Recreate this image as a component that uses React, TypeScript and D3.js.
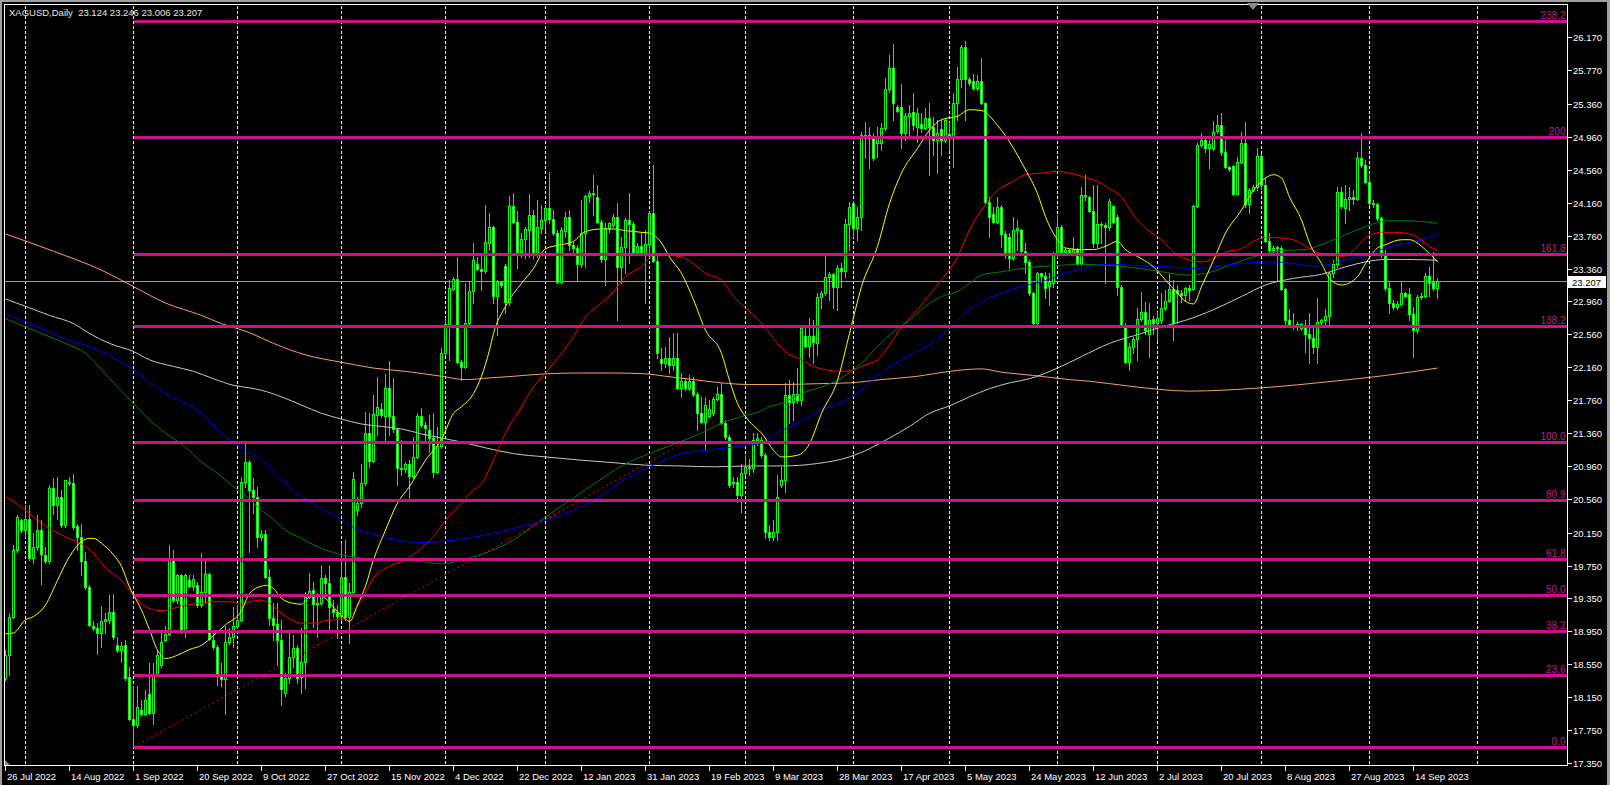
import * as d3 from "d3";
import { useEffect } from "react";

const W = 1610;
const H = 785;

// daily bars, one per trading day from 26 Jul 2022: [open, high, low, close]
const candles: [number, number, number, number][] = [
  [18.38,18.72,18.36,18.66],[18.66,19.17,18.42,19.13],[19.13,20.00,19.11,19.94],[19.94,20.36,19.92,20.34],[20.30,20.32,20.16,20.18],
  [20.18,20.49,20.10,20.31],[20.31,20.49,19.82,19.84],[19.84,20.14,19.78,19.97],[19.97,20.36,19.94,20.18],[20.18,20.30,19.53,19.89],
  [19.88,19.98,19.78,19.80],[19.80,20.73,19.78,20.69],[20.69,20.81,20.38,20.49],[20.49,20.83,20.32,20.58],[20.58,20.67,20.22,20.24],
  [20.24,20.79,20.22,20.79],[20.76,20.83,20.73,20.75],[20.75,20.86,20.20,20.22],[20.23,20.26,19.94,20.10],[20.10,20.26,19.63,19.80],
  [19.80,19.92,19.47,19.49],[19.49,19.51,19.01,19.03],[19.02,19.07,18.97,18.99],[18.99,19.05,18.68,18.93],[18.93,19.26,18.76,19.08],
  [19.08,19.17,18.93,19.10],[19.09,19.39,19.05,19.19],[19.19,19.41,18.86,18.88],[18.78,18.88,18.70,18.72],[18.72,18.82,18.58,18.77],
  [18.78,18.84,18.36,18.38],[18.40,18.52,17.87,17.89],[17.89,18.28,17.54,17.81],[17.81,18.28,17.79,18.03],[18.00,18.12,17.93,17.95],
  [17.95,18.24,17.93,18.12],[18.19,18.56,17.95,17.96],[17.96,18.56,17.83,18.43],[18.43,18.72,18.42,18.66],[18.54,18.93,18.52,18.82],
  [18.84,19.01,18.83,18.92],[18.92,20.00,18.91,19.82],[19.82,19.94,19.31,19.33],[19.33,19.65,19.29,19.63],[19.63,19.65,18.93,18.95],
  [18.95,19.65,18.88,19.63],[19.58,19.63,19.49,19.50],[19.50,19.63,19.45,19.59],[19.51,19.55,19.25,19.27],[19.27,19.90,19.25,19.43],
  [19.43,19.84,19.29,19.65],[19.65,19.66,18.84,18.86],[18.84,18.95,18.74,18.76],[18.76,18.78,18.30,18.42],[18.42,18.56,18.28,18.37],
  [18.37,19.01,17.95,18.82],[18.82,18.99,18.80,18.88],[18.88,19.25,18.76,19.01],[19.01,19.27,18.99,19.09],[19.09,20.83,19.07,20.77],
  [20.77,21.23,20.70,21.01],[21.01,21.03,19.92,20.67],[20.67,20.81,20.39,20.58],[20.58,20.70,19.97,20.10],[20.10,20.18,20.06,20.13],
  [20.13,20.18,19.60,19.61],[19.61,19.71,19.03,19.11],[19.11,19.29,18.84,19.03],[19.04,19.29,18.54,18.85],[18.85,19.09,18.05,18.25],
  [18.20,18.44,18.17,18.38],[18.38,18.93,18.32,18.64],[18.64,18.90,18.52,18.75],[18.75,18.78,18.32,18.38],[18.40,18.99,18.20,18.58],
  [18.58,19.43,18.26,19.37],[19.37,19.66,19.36,19.44],[19.45,19.55,19.00,19.28],[19.28,19.42,18.88,19.30],[19.30,19.76,19.27,19.60],
  [19.60,19.64,19.39,19.54],[19.54,19.76,18.97,19.25],[19.22,19.33,19.12,19.18],[19.19,19.27,18.87,19.14],[19.14,20.02,19.09,19.61],
  [19.61,20.06,19.09,19.12],[19.12,19.54,18.81,19.43],[19.43,20.89,19.42,20.80],[20.42,20.58,20.36,20.51],[20.51,20.99,20.46,20.75],
  [20.75,21.61,20.73,21.36],[21.36,21.60,20.95,21.02],[21.02,21.82,21.01,21.59],[21.58,22.04,21.34,21.68],[21.65,21.72,21.55,21.58],
  [21.57,22.08,21.27,21.91],[21.91,22.24,21.34,21.57],[21.57,22.03,21.37,21.41],[21.41,21.42,20.73,20.93],[20.94,21.27,20.85,20.92],
  [20.92,21.01,20.89,20.98],[20.98,21.03,20.57,20.84],[20.84,21.31,20.81,21.07],[21.07,21.60,21.06,21.57],[21.57,21.66,21.43,21.46],
  [21.46,21.49,21.24,21.42],[21.40,21.58,21.13,21.30],[21.30,21.60,20.83,20.89],[20.89,21.43,20.87,21.20],[21.20,22.39,21.18,22.33],
  [22.33,22.76,22.31,22.69],[22.69,23.22,22.25,23.12],[23.11,23.26,23.10,23.23],[23.23,23.50,22.21,22.22],[22.22,22.25,22.00,22.16],
  [22.16,23.18,22.15,22.70],[22.70,23.20,22.69,23.09],[23.09,23.67,22.94,23.46],[23.42,23.50,23.34,23.35],[23.36,23.52,23.10,23.33],
  [23.33,24.13,23.31,23.68],[23.67,24.03,23.58,23.86],[23.86,23.88,22.94,23.03],[23.03,23.22,22.55,23.20],[23.19,23.20,23.13,23.16],
  [23.39,23.41,22.82,22.95],[22.95,24.24,22.92,24.12],[24.12,24.28,23.91,23.92],[23.92,24.06,23.37,23.56],[23.56,23.79,23.50,23.72],
  [23.72,23.86,23.49,23.84],[23.83,24.26,23.50,24.01],[24.01,24.07,23.49,23.52],[23.52,24.19,23.50,23.86],[23.85,24.13,23.79,23.95],
  [23.95,24.13,23.83,24.10],[24.09,24.53,23.91,23.96],[23.96,24.07,23.77,23.79],[23.79,23.83,23.18,23.20],[23.20,23.86,23.18,23.83],
  [23.82,24.05,23.74,23.99],[23.99,24.07,23.58,23.65],[23.65,23.68,23.55,23.61],[23.61,23.65,23.22,23.41],[23.41,24.19,23.38,23.79],
  [23.79,24.25,23.38,24.24],[24.24,24.30,24.17,24.28],[24.28,24.50,24.01,24.26],[24.23,24.37,23.91,23.92],[23.92,23.95,23.44,23.47],
  [23.47,23.91,23.16,23.85],[23.85,23.93,23.80,23.91],[23.89,24.02,23.86,23.99],[23.99,24.16,22.73,23.38],[23.38,23.74,23.18,23.62],
  [23.62,23.97,23.30,23.95],[23.95,24.28,23.43,23.90],[23.90,23.93,23.55,23.56],[23.56,23.67,23.52,23.63],[23.63,23.80,23.52,23.55],
  [23.55,23.83,22.94,23.66],[23.66,24.05,23.52,24.03],[24.03,24.62,23.44,23.45],[23.45,23.52,22.27,22.33],[22.26,22.39,22.13,22.21],
  [22.21,22.41,22.16,22.27],[22.27,22.53,22.09,22.19],[22.19,22.58,22.13,22.27],[22.27,22.58,21.90,21.91],[21.91,22.09,21.80,21.99],
  [21.99,22.03,21.88,21.91],[21.91,22.06,21.88,21.99],[21.99,22.04,21.81,21.83],[21.83,21.86,21.40,21.60],[21.60,21.80,21.48,21.49],
  [21.49,21.80,21.15,21.70],[21.57,21.76,21.56,21.65],[21.60,21.80,21.58,21.78],[21.78,21.92,21.76,21.84],[21.84,21.97,21.47,21.48],
  [21.48,21.52,21.29,21.31],[21.31,21.34,20.70,20.73],[20.75,20.83,20.70,20.77],[20.77,20.83,20.52,20.61],[20.61,20.99,20.40,20.87],
  [20.87,21.09,20.85,20.95],[20.95,21.05,20.85,20.93],[20.93,21.36,20.89,21.28],[21.28,21.36,21.21,21.30],[21.28,21.31,21.07,21.09],
  [21.09,21.12,20.08,20.16],[20.16,20.24,20.06,20.10],[20.10,20.30,20.06,20.16],[20.16,20.85,20.06,20.58],[20.73,20.95,20.70,20.79],
  [20.79,21.97,20.64,21.82],[21.82,22.00,21.48,21.74],[21.74,21.98,21.52,21.83],[21.83,22.15,21.72,21.76],[21.76,22.65,21.70,22.64],
  [22.54,22.65,22.41,22.42],[22.42,22.76,22.28,22.54],[22.54,22.73,22.21,22.47],[22.46,23.06,22.31,23.01],[23.01,23.09,22.88,23.06],
  [23.06,23.55,23.04,23.26],[23.26,23.32,22.98,23.29],[23.29,23.31,22.88,23.13],[23.13,23.40,22.86,23.37],[23.37,23.43,23.13,23.33],
  [23.33,23.96,23.26,23.90],[23.90,24.17,23.59,24.11],[24.16,24.18,23.74,23.85],[23.85,24.11,23.71,23.99],[23.99,25.02,23.83,24.98],
  [24.98,25.14,24.70,24.95],[24.95,25.08,24.58,24.98],[24.95,25.01,24.68,24.70],[24.89,25.08,24.71,24.95],[24.89,25.13,24.80,25.07],
  [25.07,25.67,25.04,25.54],[25.54,25.95,25.50,25.80],[25.80,26.09,25.16,25.37],[25.32,25.35,25.26,25.28],[25.32,25.60,24.82,25.01],
  [25.01,25.25,24.92,25.21],[25.21,25.35,24.98,25.25],[25.26,25.49,25.04,25.10],[25.08,25.31,24.90,25.25],[25.12,25.25,25.02,25.07],
  [25.07,25.31,25.05,25.19],[25.19,25.37,24.50,25.08],[25.08,25.20,24.74,24.92],[24.92,25.17,24.52,25.01],[25.06,25.17,24.74,24.92],
  [24.92,25.19,24.90,25.16],[24.99,25.14,24.80,24.96],[24.96,25.49,24.59,25.37],[25.37,25.81,25.16,25.66],[25.66,26.08,25.57,26.05],
  [26.05,26.13,25.16,25.66],[25.66,25.69,25.59,25.62],[25.64,25.73,25.53,25.55],[25.55,25.71,25.53,25.64],[25.64,25.92,25.36,25.37],
  [25.37,25.38,24.15,24.17],[24.17,24.23,23.74,23.99],[24.02,24.11,23.91,23.93],[23.93,24.23,23.91,24.11],[24.11,24.13,23.62,23.78],
  [23.78,23.82,23.49,23.55],[23.74,23.79,23.37,23.49],[23.49,23.99,23.46,23.83],[23.83,23.95,23.59,23.85],[23.83,23.84,23.55,23.57],
  [23.57,23.67,23.31,23.44],[23.44,23.46,23.04,23.06],[23.06,23.07,22.65,22.70],[22.70,23.32,22.65,23.30],[23.30,23.31,23.20,23.27],
  [23.27,23.32,23.00,23.12],[23.15,23.30,22.92,23.19],[23.18,23.56,23.14,23.54],[23.54,24.01,23.50,23.86],[23.86,23.89,23.55,23.56],
  [23.56,23.61,23.54,23.59],[23.59,23.60,23.52,23.56],[23.54,23.74,23.52,23.60],[23.60,23.61,23.40,23.43],[23.43,24.35,23.40,24.25],
  [24.25,24.50,24.19,24.24],[24.23,24.24,24.05,24.06],[24.06,24.37,23.62,23.67],[23.67,24.37,23.62,23.90],[23.90,23.93,23.67,23.89],
  [23.89,23.91,23.18,23.86],[23.86,24.20,23.83,24.18],[24.12,24.13,23.91,23.92],[23.99,24.01,23.04,23.14],[23.14,23.16,22.65,22.67],
  [22.67,22.70,22.21,22.22],[22.22,22.45,22.13,22.41],[22.41,22.53,22.33,22.50],[22.50,22.88,22.25,22.75],[22.75,23.07,22.72,22.83],
  [22.83,22.95,22.57,22.61],[22.57,22.94,22.29,22.73],[22.75,22.78,22.57,22.70],[22.70,22.83,22.49,22.76],[22.73,23.06,22.70,22.88],
  [22.88,23.10,22.86,22.96],[22.96,23.30,22.95,23.11],[23.11,23.22,22.49,22.70],[23.10,23.16,22.70,23.06],[23.06,23.10,22.95,23.04],
  [23.04,23.14,22.98,23.12],[23.12,23.16,22.98,23.10],[23.11,24.13,23.10,24.12],[24.12,24.89,24.11,24.86],[24.86,25.01,24.84,24.92],
  [24.92,24.94,24.78,24.83],[24.83,24.92,24.58,24.87],[24.82,25.15,24.80,25.02],[25.03,25.23,25.01,25.10],[25.10,25.25,24.74,24.78],
  [24.78,24.92,24.58,24.59],[24.59,24.60,24.55,24.57],[24.60,24.62,24.25,24.27],[24.27,24.71,24.26,24.65],[24.65,25.02,24.64,24.88],
  [24.88,25.14,24.11,24.14],[24.14,24.34,24.03,24.32],[24.32,24.37,24.30,24.35],[24.35,24.82,24.31,24.73],[24.73,24.75,24.33,24.38],
  [24.38,24.46,23.68,23.69],[23.69,23.79,23.55,23.58],[23.58,23.63,23.54,23.61],[23.61,23.63,23.22,23.62],[23.61,23.63,23.10,23.11],
  [23.11,23.12,22.65,22.74],[22.74,22.87,22.65,22.67],[22.67,22.82,22.63,22.65],[22.65,22.71,22.61,22.68],[22.68,22.70,22.61,22.64],
  [22.67,22.73,22.35,22.57],[22.57,22.82,22.21,22.52],[22.52,22.65,22.33,22.40],[22.40,23.00,22.21,22.71],[22.71,22.75,22.69,22.73],
  [22.73,22.87,22.69,22.78],[22.78,23.32,22.65,23.30],[23.30,23.46,23.26,23.41],[23.41,24.35,23.38,24.29],[24.29,24.35,24.09,24.12],
  [24.10,24.37,23.91,24.20],[24.20,24.35,24.07,24.23],[24.23,24.31,24.15,24.21],[24.21,24.78,24.19,24.70],[24.70,25.01,24.59,24.62],
  [24.62,24.68,24.40,24.41],[24.41,24.50,24.13,24.16],[24.16,24.19,24.11,24.14],[24.14,24.16,23.95,23.97],[23.97,23.99,23.50,23.55],
  [23.55,23.59,23.10,23.12],[23.12,23.20,22.82,22.94],[22.94,22.98,22.87,22.89],[22.89,22.96,22.87,22.93],[22.93,23.20,22.92,23.06],
  [23.06,23.07,23.01,23.03],[23.05,23.12,22.73,22.81],[22.81,22.89,22.28,22.61],[22.61,23.04,22.58,23.01],[23.01,23.06,22.99,23.03],
  [23.03,23.30,23.01,23.27],[23.27,23.38,23.03,23.18],[23.19,23.56,23.10,23.12],[23.124,23.246,23.006,23.207],
];

// moving averages: [bar index, price]
const maYellow: [number, number][] = [
  [0,18.92],[2,18.93],[5,19.09],[7,19.13],[10,19.27],[13,19.57],[16,19.86],[19,20.04],[21,20.08],[22,20.08],[24,20.02],[27,19.88],
  [29,19.74],[31,19.49],[34,19.21],[36,18.97],[38,18.72],[40,18.62],[43,18.66],[46,18.73],[49,18.78],[52,18.90],[55,19.03],[59,19.20],
  [61,19.41],[64,19.50],[65,19.51],[67,19.47],[69,19.35],[72,19.29],[74,19.28],[76,19.37],[78,19.39],[80,19.35],[83,19.19],[85,19.10],
  [86,19.07],[88,19.27],[90,19.50],[92,19.82],[95,20.18],[98,20.51],[101,20.71],[105,21.03],[109,21.28],[112,21.60],[114,21.68],
  [117,21.84],[119,22.05],[121,22.37],[122,22.57],[125,22.90],[129,23.18],[132,23.36],[135,23.60],[139,23.65],[142,23.69],[145,23.81],
  [149,23.84],[152,23.84],[155,23.82],[159,23.80],[161,23.79],[164,23.67],[166,23.50],[169,23.30],[172,22.98],[175,22.61],[179,22.33],
  [181,22.00],[183,21.72],[185,21.56],[187,21.45],[189,21.36],[192,21.15],[194,21.07],[198,21.09],[201,21.23],[204,21.60],[208,22.00],
  [211,22.57],[214,23.14],[218,23.63],[221,24.15],[224,24.52],[228,24.82],[231,25.04],[234,25.17],[238,25.21],[241,25.29],[244,25.28],
  [248,25.10],[251,24.90],[255,24.56],[258,24.27],[260,23.99],[263,23.71],[265,23.61],[269,23.59],[272,23.59],[275,23.63],[278,23.69],
  [280,23.59],[284,23.48],[287,23.38],[290,23.22],[293,23.06],[295,22.96],[297,22.93],[299,23.14],[302,23.46],[305,23.79],[309,24.07],
  [312,24.31],[315,24.46],[317,24.50],[319,24.46],[321,24.23],[324,23.95],[326,23.67],[329,23.42],[331,23.24],[334,23.16],[338,23.26],
  [340,23.42],[343,23.61],[345,23.65],[349,23.71],[351,23.71],[354,23.63],[356,23.54],[358,23.44],
];
const maRed: [number, number][] = [
  [0,20.59],[4,20.46],[7,20.34],[11,20.20],[15,20.10],[19,20.01],[22,19.90],[25,19.72],[29,19.57],[32,19.39],[35,19.25],[39,19.20],
  [42,19.23],[45,19.27],[49,19.29],[52,19.31],[56,19.31],[59,19.28],[61,19.31],[64,19.33],[67,19.25],[70,19.13],[74,19.05],[77,19.05],
  [80,19.08],[84,19.10],[86,19.13],[89,19.33],[92,19.60],[96,19.74],[100,19.82],[104,19.96],[107,20.10],[110,20.30],[114,20.51],
  [117,20.67],[119,20.74],[122,21.03],[125,21.36],[129,21.68],[132,21.92],[135,22.09],[139,22.33],[142,22.53],[145,22.77],[149,22.94],
  [152,23.08],[155,23.26],[159,23.38],[162,23.52],[165,23.52],[169,23.50],[172,23.42],[175,23.30],[179,23.22],[182,23.02],[185,22.88],
  [189,22.70],[192,22.51],[195,22.35],[199,22.25],[202,22.17],[205,22.13],[209,22.11],[212,22.13],[215,22.19],[218,22.25],[221,22.43],
  [224,22.65],[228,22.86],[231,23.04],[234,23.22],[238,23.50],[241,23.83],[244,24.07],[248,24.31],[252,24.42],[255,24.50],[259,24.52],
  [263,24.54],[266,24.52],[269,24.48],[273,24.42],[276,24.33],[279,24.23],[282,24.01],[285,23.85],[289,23.71],[292,23.56],[295,23.48],
  [299,23.44],[302,23.48],[305,23.56],[309,23.60],[312,23.69],[315,23.74],[319,23.73],[322,23.71],[325,23.63],[329,23.54],[332,23.52],
  [334,23.50],[337,23.58],[340,23.73],[344,23.80],[347,23.80],[350,23.79],[354,23.71],[356,23.63],[358,23.58],
];
const maGreen: [number, number][] = [
  [0,22.75],[5,22.65],[11,22.53],[15,22.45],[20,22.33],[24,22.13],[28,21.92],[32,21.72],[36,21.52],[40,21.36],[45,21.19],[49,21.01],
  [53,20.87],[57,20.71],[60,20.60],[64,20.42],[67,20.31],[70,20.18],[74,20.08],[77,20.00],[80,19.94],[84,19.88],[86,19.86],[92,19.83],
  [98,19.82],[104,19.80],[109,19.77],[115,19.83],[121,19.92],[127,20.06],[135,20.34],[142,20.57],[148,20.77],[154,20.96],[162,21.13],
  [169,21.26],[174,21.36],[179,21.48],[184,21.56],[189,21.63],[191,21.68],[194,21.72],[199,21.84],[204,21.92],[209,22.03],[214,22.21],
  [218,22.41],[222,22.59],[226,22.73],[230,22.90],[234,23.02],[238,23.08],[241,23.18],[244,23.28],[249,23.32],[254,23.36],[261,23.39],
  [269,23.41],[275,23.40],[282,23.37],[289,23.32],[295,23.28],[300,23.30],[305,23.38],[310,23.47],[315,23.54],[320,23.58],[325,23.59],
  [330,23.67],[335,23.77],[339,23.85],[343,23.92],[345,23.94],[350,23.94],[354,23.93],[358,23.91],
];
const maBlue: [number, number][] = [
  [0,22.81],[5,22.71],[11,22.59],[15,22.50],[20,22.43],[24,22.35],[28,22.25],[32,22.13],[36,21.98],[40,21.84],[45,21.72],[49,21.60],
  [53,21.40],[57,21.25],[60,21.15],[64,21.03],[69,20.79],[74,20.59],[79,20.44],[84,20.31],[87,20.21],[92,20.13],[96,20.08],[100,20.04],
  [105,20.03],[109,20.04],[115,20.08],[120,20.12],[127,20.20],[135,20.30],[142,20.42],[149,20.60],[155,20.80],[162,20.97],[169,21.11],
  [175,21.15],[182,21.19],[189,21.24],[192,21.34],[198,21.48],[203,21.62],[211,21.78],[219,22.09],[226,22.31],[231,22.43],[236,22.63],
  [240,22.82],[244,22.96],[249,23.06],[254,23.14],[259,23.20],[265,23.30],[270,23.38],[277,23.41],[284,23.39],[290,23.38],[297,23.36],
  [302,23.38],[307,23.41],[312,23.43],[317,23.44],[322,23.42],[327,23.39],[330,23.40],[335,23.47],[340,23.52],[345,23.61],[350,23.67],
  [354,23.71],[358,23.78],
];
const maSilver: [number, number][] = [
  [0,22.99],[5,22.90],[11,22.79],[17,22.69],[21,22.57],[26,22.45],[32,22.35],[36,22.25],[42,22.17],[47,22.11],[52,22.02],[57,21.94],
  [61,21.91],[64,21.88],[69,21.80],[74,21.70],[79,21.60],[84,21.53],[89,21.47],[94,21.44],[99,21.41],[104,21.35],[109,21.30],[115,21.24],
  [120,21.18],[127,21.11],[135,21.07],[144,21.03],[152,21.00],[160,20.97],[169,20.96],[177,20.95],[186,20.96],[194,20.96],[203,20.99],
  [211,21.07],[216,21.17],[221,21.30],[226,21.44],[231,21.60],[236,21.69],[241,21.80],[246,21.90],[251,21.97],[256,22.02],[263,22.15],
  [269,22.29],[276,22.45],[284,22.57],[289,22.65],[295,22.73],[302,22.86],[309,23.02],[315,23.16],[322,23.24],[329,23.29],[335,23.38],
  [340,23.44],[345,23.47],[350,23.47],[358,23.46],
];
const maOrange: [number, number][] = [
  [0,23.78],[12,23.57],[24,23.34],[32,23.14],[40,22.94],[49,22.79],[54,22.69],[61,22.58],[67,22.45],[75,22.31],[84,22.22],[92,22.15],
  [100,22.11],[109,22.05],[115,22.01],[121,22.03],[127,22.05],[135,22.08],[144,22.09],[152,22.09],[160,22.08],[165,22.05],[172,22.01],
  [179,21.97],[186,21.95],[194,21.95],[203,21.96],[211,21.97],[219,22.01],[228,22.05],[236,22.11],[244,22.14],[249,22.10],[257,22.06],
  [266,22.01],[271,21.99],[281,21.93],[296,21.87],[314,21.91],[332,21.99],[345,22.06],[358,22.15],
];

const maSeries: { data: [number, number][]; color: string }[] = [
  { data: maOrange, color: "#f4a460" },
  { data: maSilver, color: "#c8c8c8" },
  { data: maGreen, color: "#008000" },
  { data: maBlue, color: "#0000ff" },
  { data: maRed, color: "#ff0000" },
  { data: maYellow, color: "#ffff00" },
];

// fibonacci retracement anchored at the 1 Sep 2022 low
const fibLow = 17.544;
const fibHigh = 21.251;
const fibStartIdx = 32;
const fibEndIdx = 170;
const fibLevels = [0, 23.6, 38.2, 50.0, 61.8, 80.9, 100.0, 138.2, 161.8, 200, 238.2];
const fibLabels = ["0.0", "23.6", "38.2", "50.0", "61.8", "80.9", "100.0", "138.2", "161.8", "200", "238.2"];

const priceTicks = [26.17, 25.77, 25.36, 24.96, 24.56, 24.16, 23.76, 23.36, 22.96, 22.56, 22.16, 21.76, 21.36, 20.96, 20.56, 20.15, 19.75, 19.35, 18.95, 18.55, 18.15, 17.75, 17.35];
const dateLabels = [
  "26 Jul 2022", "14 Aug 2022", "1 Sep 2022", "20 Sep 2022", "9 Oct 2022", "27 Oct 2022", "15 Nov 2022", "4 Dec 2022",
  "22 Dec 2022", "12 Jan 2023", "31 Jan 2023", "19 Feb 2023", "9 Mar 2023", "28 Mar 2023", "17 Apr 2023", "5 May 2023",
  "24 May 2023", "12 Jun 2023", "2 Jul 2023", "20 Jul 2023", "8 Aug 2023", "27 Aug 2023", "14 Sep 2023",
];
const dateLabelStep = 16;
// first bar of each month (Aug 2022 .. Oct 2023)
const monthStartIdx = [5, 32, 58, 84, 110, 135, 161, 185, 212, 236, 263, 288, 314, 341, 368];

const symbol = "XAGUSD,Daily";
const lastBar = candles[candles.length - 1];

const FONT = "Tahoma, 'Liberation Sans', Arial, sans-serif";

export default function App() {
  useEffect(() => {
    document.body.style.margin = "0";
    document.body.style.background = "#000";
  }, []);

  const left = 4.5, top = 4.5, right = 1567.5, bottom = 766;
  const x = d3.scaleLinear().domain([0, 358]).range([5.5, 1437.5]);
  const y = d3.scaleLinear().domain([17.35, 26.17]).range([763, 37.3]);
  const crisp = (v: number) => Math.round(v) + 0.5;

  const line = d3
    .line<[number, number]>()
    .x((d) => x(d[0]))
    .y((d) => y(d[1]))
    .curve(d3.curveMonotoneX);

  const bid = lastBar[3];
  const bidY = crisp(y(bid));

  return (
    <svg width={W} height={H} style={{ display: "block", position: "absolute", left: 0, top: 0, background: "#000" }} fontFamily={FONT}>
      <rect x={0} y={0} width={W} height={H} fill="#000" />
      {/* window edges */}
      <line x1={0} x2={W} y1={1} y2={1} stroke="#a0a0a0" strokeWidth={2} />
      <line x1={1} x2={1} y1={0} y2={H} stroke="#a0a0a0" strokeWidth={2} />
      <line x1={W - 1.5} x2={W - 1.5} y1={0} y2={H} stroke="#a0a0a0" strokeWidth={3} />

      <defs>
        <clipPath id="plot">
          <rect x={left} y={top} width={right - left} height={bottom - top} />
        </clipPath>
      </defs>

      <g clipPath="url(#plot)" shapeRendering="crispEdges">
        {/* month grid */}
        {monthStartIdx.map((i) => (
          <line key={i} x1={x(i)} x2={x(i)} y1={top + 1} y2={bottom - 1} stroke="#ffffff" strokeDasharray="3,2" />
        ))}
        {/* bid line */}
        <line x1={left} x2={right} y1={bidY} y2={bidY} stroke="#9a9a9a" />

        {/* candles */}
        {candles.map(([o, h, l, c], i) => {
          const cx = x(i);
          const yt = Math.round(y(Math.max(o, c)));
          const yb = Math.round(y(Math.min(o, c)));
          const wt = Math.min(Math.round(y(h)), yt);
          const wb = Math.max(Math.round(y(l)), yb);
          const up = c >= o;
          return (
            <g key={i}>
              <line x1={cx} x2={cx} y1={wt} y2={wb + 1} stroke="#00ff00" />
              <rect x={cx - 1} y={yt + 0.5} width={2} height={Math.max(1, yb - yt)} fill={up ? "#000000" : "#ffffff"} stroke="#00ff00" />
            </g>
          );
        })}
      </g>

      <g clipPath="url(#plot)">
        {/* moving averages */}
        {maSeries.map((s, k) => (
          <path key={k} d={line(s.data) ?? ""} fill="none" stroke={s.color} strokeWidth={1} />
        ))}

        {/* fibonacci trend line */}
        <line
          x1={x(fibStartIdx)}
          y1={y(fibLow)}
          x2={x(fibEndIdx)}
          y2={y(fibHigh)}
          stroke="#ff0000"
          strokeDasharray="2,3"
        />
        {/* fibonacci levels */}
        {fibLevels.map((lv, k) => {
          const py = crisp(y(fibLow + ((fibHigh - fibLow) * lv) / 100));
          return (
            <g key={lv}>
              <line x1={x(fibStartIdx)} x2={right} y1={py} y2={py} stroke="#c71585" strokeWidth={3} shapeRendering="crispEdges" />
              <text x={right - 2} y={py - 2.5} textAnchor="end" fontSize={10} fill="#c71585">
                {fibLabels[k]}
              </text>
            </g>
          );
        })}
      </g>

      {/* title */}
      <text x={9} y={16} fontSize={9.5} fill="#e6e6e6" style={{ whiteSpace: "pre" }}>
        {`${symbol}  ${lastBar.map((v) => v.toFixed(3)).join(" ")}`}
      </text>

      {/* chart frame */}
      <rect x={left} y={top} width={right - left} height={bottom - top - 0.5} fill="none" stroke="#ffffff" shapeRendering="crispEdges" />

      {/* price axis */}
      {priceTicks.map((p) => {
        const py = crisp(y(p));
        return (
          <g key={p}>
            <line x1={right} x2={right + 4} y1={py} y2={py} stroke="#ffffff" shapeRendering="crispEdges" />
            <text x={1573} y={py + 3.5} fontSize={9.5} fill="#ffffff">
              {p.toFixed(3)}
            </text>
          </g>
        );
      })}
      {/* current price marker */}
      <rect x={1568} y={bidY - 5.5} width={38} height={12} fill="#ffffff" />
      <text x={1572} y={bidY + 4} fontSize={9.5} fill="#000000">
        {bid.toFixed(3)}
      </text>

      {/* date axis */}
      {dateLabels.map((lab, k) => {
        const tx = x(k * dateLabelStep);
        return (
          <g key={lab}>
            <line x1={tx} x2={tx} y1={bottom} y2={bottom + 5} stroke="#ffffff" shapeRendering="crispEdges" />
            <text x={tx + 1.5} y={780} fontSize={9.5} fill="#ffffff">
              {lab}
            </text>
          </g>
        );
      })}

      {/* chart shift / scroll markers */}
      <polygon points="1247,3 1259,3 1253,10" fill="#8a8a8a" />
      <polygon points="5,760 5,765 10,765" fill="#8a8a8a" />
    </svg>
  );
}
